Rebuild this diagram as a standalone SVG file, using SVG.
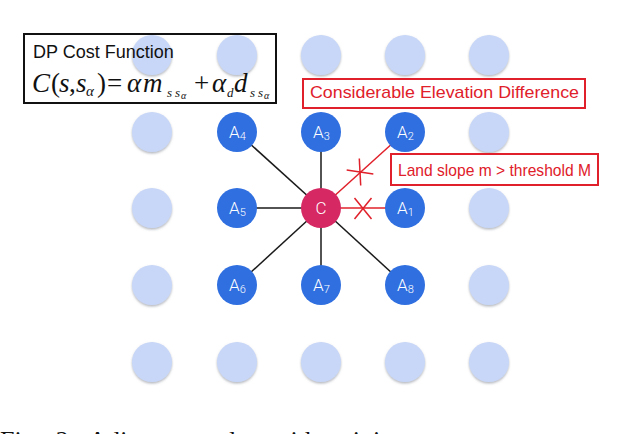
<svg xmlns="http://www.w3.org/2000/svg" width="640" height="434" viewBox="0 0 640 434">
<defs>
<filter id="sh" x="-30%" y="-30%" width="160%" height="160%">
<feDropShadow dx="0" dy="1.5" stdDeviation="0.8" flood-color="#7a7f8a" flood-opacity="0.55"/>
</filter>
<style>
.bg{fill:#c8d7f8;filter:url(#sh)}
.an{fill:#2f6fe0}
.cn{fill:#d62863}
.lbl{fill:#ffffff;font-family:Roboto,"Liberation Sans",sans-serif;font-weight:300;font-size:17px}
.sub{font-size:11px}
.edge{stroke:#1a1a1a;stroke-width:1.5;fill:none}
.red{stroke:#e0202a;stroke-width:1.5;fill:none}
.rtxt{fill:#e0202a;font-family:"Liberation Sans",Arial,sans-serif;font-size:17px}
.rbox{fill:#ffffff;stroke:#e0202a;stroke-width:2}
.math{font-family:"Liberation Serif","Times New Roman",serif;font-size:27px;fill:#111}
.it{font-style:italic}
</style>
</defs>
<rect width="640" height="434" fill="#ffffff"/>

<g id="background-grid">
<circle class="bg" cx="152" cy="55" r="20"/>
<circle class="bg" cx="237" cy="55" r="20"/>
<circle class="bg" cx="321" cy="55" r="20"/>
<circle class="bg" cx="405" cy="55" r="20"/>
<circle class="bg" cx="489" cy="55" r="20"/>
<circle class="bg" cx="152" cy="132" r="20"/>
<circle class="bg" cx="489" cy="132" r="20"/>
<circle class="bg" cx="152" cy="208" r="20"/>
<circle class="bg" cx="489" cy="208" r="20"/>
<circle class="bg" cx="152" cy="285" r="20"/>
<circle class="bg" cx="489" cy="285" r="20"/>
<circle class="bg" cx="152" cy="362" r="20"/>
<circle class="bg" cx="237" cy="362" r="20"/>
<circle class="bg" cx="321" cy="362" r="20"/>
<circle class="bg" cx="405" cy="362" r="20"/>
<circle class="bg" cx="489" cy="362" r="20"/>
</g>

<g id="connectors">
<line class="edge" x1="321" y1="208" x2="321" y2="132"/>
<line class="edge" x1="321" y1="208" x2="237" y2="132"/>
<line class="edge" x1="321" y1="208" x2="237" y2="208"/>
<line class="edge" x1="321" y1="208" x2="237" y2="285"/>
<line class="edge" x1="321" y1="208" x2="321" y2="285"/>
<line class="edge" x1="321" y1="208" x2="405" y2="285"/>
<line class="red" x1="321" y1="208" x2="405" y2="132"/>
<line class="red" x1="321" y1="208" x2="405" y2="208"/>
<g transform="rotate(-42 360 172)">
<line class="red" x1="351.5" y1="161.5" x2="368.5" y2="182.5"/>
<line class="red" x1="368.5" y1="161.5" x2="351.5" y2="182.5"/>
</g>
<line class="red" x1="354.5" y1="198" x2="371.5" y2="219"/>
<line class="red" x1="371.5" y1="198" x2="354.5" y2="219"/>
</g>

<g id="A1"><circle class="an" cx="405" cy="208" r="20"/><text class="lbl" x="397" y="214">A<tspan class="sub" dy="2">1</tspan></text></g>
<g id="A2"><circle class="an" cx="405" cy="132" r="20"/><text class="lbl" x="397" y="138">A<tspan class="sub" dy="2">2</tspan></text></g>
<g id="A3"><circle class="an" cx="321" cy="132" r="20"/><text class="lbl" x="313" y="138">A<tspan class="sub" dy="2">3</tspan></text></g>
<g id="A4"><circle class="an" cx="237" cy="132" r="20"/><text class="lbl" x="229" y="138">A<tspan class="sub" dy="2">4</tspan></text></g>
<g id="A5"><circle class="an" cx="237" cy="208" r="20"/><text class="lbl" x="229" y="214">A<tspan class="sub" dy="2">5</tspan></text></g>
<g id="A6"><circle class="an" cx="237" cy="285" r="20"/><text class="lbl" x="229" y="291">A<tspan class="sub" dy="2">6</tspan></text></g>
<g id="A7"><circle class="an" cx="321" cy="285" r="20"/><text class="lbl" x="313" y="291">A<tspan class="sub" dy="2">7</tspan></text></g>
<g id="A8"><circle class="an" cx="405" cy="285" r="20"/><text class="lbl" x="397" y="291">A<tspan class="sub" dy="2">8</tspan></text></g>
<g id="C"><circle class="cn" cx="321" cy="208" r="20"/><text class="lbl" x="321" y="214" text-anchor="middle" font-size="18">C</text></g>

<g id="cost-function">
<rect x="24" y="34" width="252" height="69" fill="none" stroke="#111" stroke-width="2"/>
<text x="33" y="58" font-family="'Liberation Sans',Arial,sans-serif" font-size="18" fill="#111">DP Cost Function</text>
<text class="math" y="92"><tspan class="it" x="32">C</tspan><tspan x="51">(</tspan><tspan class="it" x="59">s</tspan><tspan x="69">,</tspan><tspan class="it" x="76">s</tspan><tspan class="it" x="86" dy="4" font-size="15">α</tspan><tspan x="97" dy="-4">)</tspan><tspan x="107">=</tspan><tspan class="it" x="127">α</tspan><tspan class="it" x="143">m</tspan><tspan class="it" x="167" dy="5" font-size="13">s</tspan><tspan class="it" x="175" font-size="13">s</tspan><tspan class="it" x="181" dy="2" font-size="10">α</tspan><tspan x="194" dy="-7">+</tspan><tspan class="it" x="212">α</tspan><tspan class="it" x="227" dy="5" font-size="13">d</tspan><tspan class="it" x="234" dy="-5">d</tspan><tspan class="it" x="250" dy="5" font-size="13">s</tspan><tspan class="it" x="258" font-size="13">s</tspan><tspan class="it" x="264" dy="2" font-size="10">α</tspan></text>
</g>

<g id="elevation-note">
<rect class="rbox" x="303" y="79" width="282" height="29"/>
<text class="rtxt" x="310" y="98" textLength="269" lengthAdjust="spacingAndGlyphs">Considerable Elevation Difference</text>
</g>

<g id="slope-note">
<rect class="rbox" x="391" y="154" width="207" height="31"/>
<text class="rtxt" x="398" y="176" textLength="193" lengthAdjust="spacingAndGlyphs">Land slope m &gt; threshold M</text>
</g>

<text x="0" y="449" font-family="'Liberation Serif','Times New Roman',serif" font-size="26" word-spacing="8" fill="#111">Fig. 2. Adjacent nodes with minimum cost to</text>
</svg>
